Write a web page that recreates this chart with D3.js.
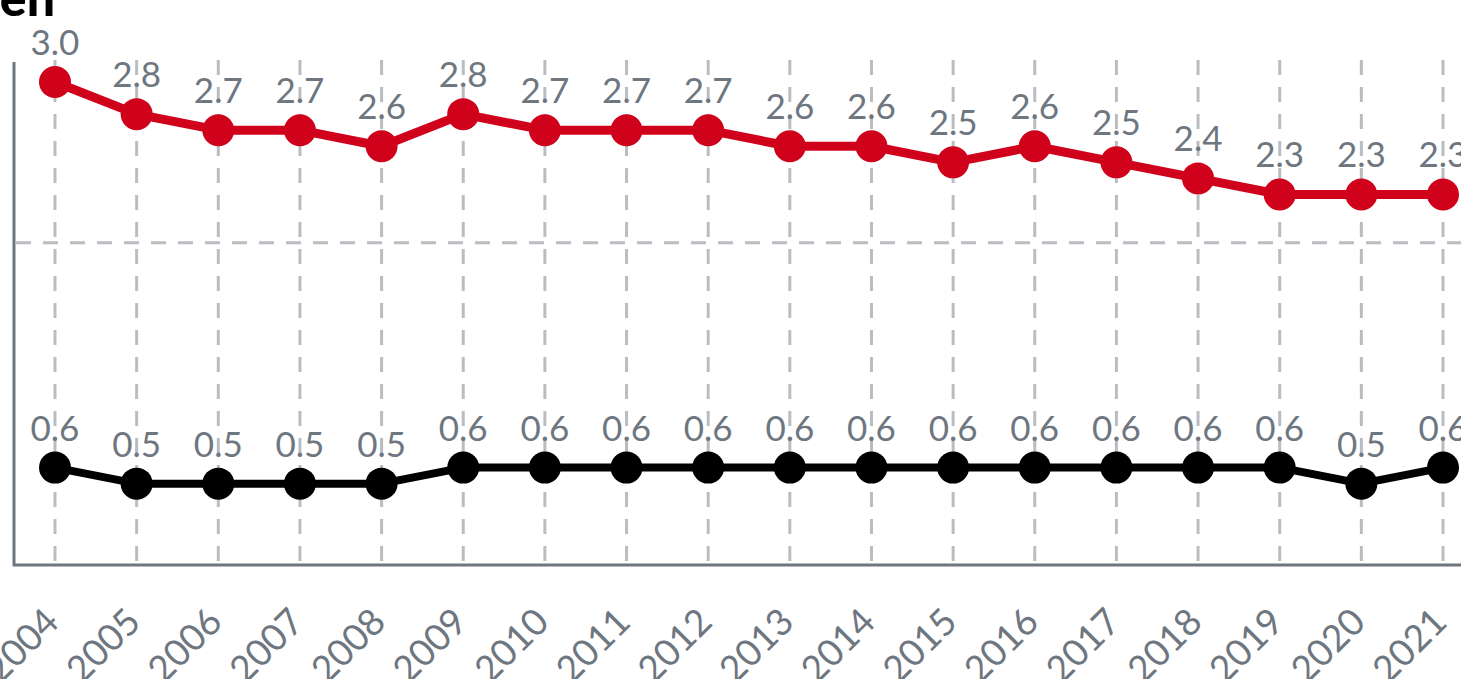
<!DOCTYPE html>
<html><head><meta charset="utf-8">
<script src="https://cdn.jsdelivr.net/npm/d3@7"></script>
<style>
html,body{margin:0;padding:0;background:#fff;overflow:hidden;}
svg{display:block;font-family:Lato, "Open Sans", sans-serif;}
</style></head>
<body>
<svg id="chart" width="1461" height="679"></svg>
<script>
const years = ["2004","2005","2006","2007","2008","2009","2010","2011","2012","2013","2014","2015","2016","2017","2018","2019","2020","2021"];
const seriesRed = [3.0,2.8,2.7,2.7,2.6,2.8,2.7,2.7,2.7,2.6,2.6,2.5,2.6,2.5,2.4,2.3,2.3,2.3];
const seriesBlack = [0.6,0.5,0.5,0.5,0.5,0.6,0.6,0.6,0.6,0.6,0.6,0.6,0.6,0.6,0.6,0.6,0.5,0.6];
const yTicks = [0, 2];
const titleText = "en";

const svg = d3.select("#chart");
const x = d3.scalePoint().domain(years).range([55, 1443]);
const y = d3.scaleLinear().domain([0, 3]).range([564, 82]);

const gridColor = "#b9bdc2";
const axisColor = "#6e7680";
const labelColor = "#6e7680";

// vertical dashed gridlines
svg.append("g").selectAll("line").data(years).join("line")
  .attr("x1", d => x(d)).attr("x2", d => x(d))
  .attr("y1", 60).attr("y2", 564)
  .attr("stroke", gridColor).attr("stroke-width", 3)
  .attr("stroke-dasharray", "15,12");

// horizontal dashed gridlines
svg.append("g").selectAll("line").data(yTicks.filter(t => t > 0)).join("line")
  .attr("x1", 16).attr("x2", 1461)
  .attr("y1", d => y(d)).attr("y2", d => y(d))
  .attr("stroke", gridColor).attr("stroke-width", 3)
  .attr("stroke-dasharray", "15,12");

// axes
svg.append("line").attr("x1", 14).attr("x2", 14).attr("y1", 62).attr("y2", 566)
  .attr("stroke", axisColor).attr("stroke-width", 3);
svg.append("line").attr("x1", 13).attr("x2", 1461).attr("y1", 565).attr("y2", 565)
  .attr("stroke", axisColor).attr("stroke-width", 3);

// x labels
svg.append("g").selectAll("text").data(years).join("text")
  .attr("transform", d => `translate(${x(d) + 6},${624}) rotate(-45)`)
  .attr("text-anchor", "end")
  .attr("fill", labelColor)
  .attr("font-size", 37)
  .text(d => d);

function drawSeries(vals, color, lw, r) {
  const line = d3.line().x((d, i) => x(years[i])).y(d => y(d));
  svg.append("path").datum(vals).attr("d", line)
    .attr("fill", "none").attr("stroke", color).attr("stroke-width", lw)
    .attr("stroke-linejoin", "round");
  svg.append("g").selectAll("circle").data(vals).join("circle")
    .attr("cx", (d, i) => x(years[i])).attr("cy", d => y(d)).attr("r", r)
    .attr("fill", color);
  svg.append("g").selectAll("text").data(vals).join("text")
    .attr("x", (d, i) => x(years[i])).attr("y", d => y(d) - 27)
    .attr("text-anchor", "middle")
    .attr("fill", labelColor)
    .attr("font-size", 35)
    .text(d => d.toFixed(1));
}
drawSeries(seriesRed, "#d0021b", 9, 16);
drawSeries(seriesBlack, "#000000", 8, 16);

// title (cropped)
svg.append("text").attr("x", 55).attr("y", 16).attr("text-anchor", "end")
  .attr("font-size", 50).attr("font-weight", 900).attr("fill", "#000")
  .text(titleText);
</script>
</body></html>
